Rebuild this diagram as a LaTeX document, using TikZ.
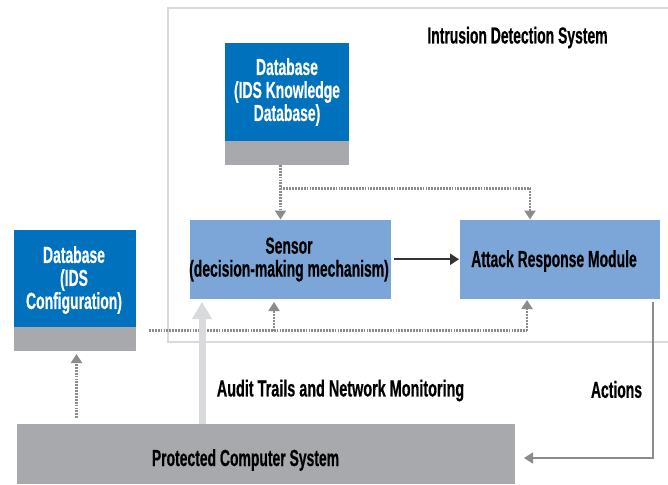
\documentclass[tikz,border=0pt]{standalone}
\usepackage{fontspec}
\setmainfont[FakeStretch=0.6,BoldFont={Liberation Sans Bold},BoldFeatures={FakeBold=0.5}]{Liberation Sans}
\usetikzlibrary{arrows.meta,calc}
\definecolor{dbblue}{HTML}{0071BC}
\definecolor{modblue}{HTML}{7CA6D8}
\definecolor{boxgray}{HTML}{A7A9AC}
\definecolor{framegray}{HTML}{D9DADB}
\definecolor{dotgray}{HTML}{8A8C8E}
\tikzset{
  x=1pt,y=-1pt,
  box/.style={rectangle,inner sep=0pt,outer sep=0pt,anchor=north west,align=center},
  dbtop/.style={box,fill=dbblue,text=white},
  dbbase/.style={box,fill=boxgray},
  module/.style={box,fill=modblue,text=black},
  label/.style={inner sep=0pt,font=\bfseries\fontsize{23.2}{23}\selectfont,text=black},
  dotline/.style={draw=dotgray,line width=2.2pt,dash pattern=on 1.8pt off 1.1pt},
  dotarrow/.style={dotline,-{Triangle[length=9pt,width=11pt,fill=dotgray,sep=0pt]}},
  solidtip/.style={-{Triangle[length=9pt,width=11pt]}},
}
\begin{document}
\begin{tikzpicture}
\useasboundingbox (0,0) rectangle (668,484);
% frame
\draw[framegray,line width=2pt] (668,8.5) -- (168,8.5) -- (168,342) -- (668,342);
% boxes
\node[dbtop,minimum width=124pt,minimum height=97.5pt] (kbtop) at (224.5,43.5) {};
\node[dbbase,minimum width=124pt,minimum height=24pt] (kbbase) at (224.5,141) {};
\node[dbtop,minimum width=122pt,minimum height=97pt] (cfgtop) at (14,229.5) {};
\node[dbbase,minimum width=122pt,minimum height=24.5pt] (cfgbase) at (14,326.5) {};
\node[module,minimum width=201.5pt,minimum height=79.5pt] (sensor) at (189.5,219.5) {};
\node[module,minimum width=200pt,minimum height=79.5pt] (arm) at (460,219.5) {};
\node[box,fill=boxgray,minimum width=498.5pt,minimum height=60pt] (pcs) at (16.5,424) {};
% texts
\node[label,text=white,align=center] (kbtext) at (287,92) {Database\\(IDS Knowledge\\Database)};
\node[label,text=white,align=center] (cfgtext) at (74,280) {Database\\(IDS\\Configuration)};
\node[label,align=center] (sensortext) at (289,259.5) {Sensor\\(decision-making mechanism)};
\node[label] (armtext) at (554,261) {Attack Response Module};
\node[label] (pcstext) at (245.5,460) {Protected Computer System};
\node[label] (idstext) at (517.5,37.5) {Intrusion Detection System};
\node[label,xscale=1.035,transform shape] (audittext) at (340.5,390.5) {Audit Trails and Network Monitoring};
\node[label] (actionstext) at (616.5,389.5) {Actions};
% connectors
\coordinate (kbsplit) at (280.5,188.5);
\coordinate (kbright) at (530,188.5);
\coordinate (dotstart) at (149,330.5);
\coordinate (dotsensor) at (274,330.5);
\coordinate (dotarm) at (527,330.5);
\coordinate (actcorner) at (653,458);
\coordinate (audit) at (202,424);
\draw[dotarrow] (kbbase.south -| kbsplit) -- (sensor.north -| kbsplit);
\draw[dotarrow] (kbsplit) -- (kbright) -- (arm.north -| kbright);
\draw[dotline] (dotstart) -- (dotarm);
\draw[dotarrow] (dotarm) -- ($(arm.south -| dotarm)+(0,1)$);
\draw[dotarrow] (dotsensor) -- ($(sensor.south -| dotsensor)+(0,3)$);
\draw[dotarrow] ($(pcs.north -| cfgtext)+(2.5,-6)$) -- ($(cfgbase.south -| cfgtext)+(2.5,3)$);
\draw[framegray,line width=7pt,-{Triangle[length=17pt,width=19pt]}] (pcs.north -| audit) -- ($(sensor.south -| audit)+(0,3)$);
\draw[black!80,line width=2.4pt,solidtip] ($(sensor.east)+(3,0)$) -- ($(arm.west)+(-1,0)$);
\draw[dotgray,line width=1.6pt,solidtip] ($(arm.south -| actcorner)+(0,3)$) -- (actcorner) -- ($(actcorner -| pcs.east)+(9,0)$);
\end{tikzpicture}
\end{document}
